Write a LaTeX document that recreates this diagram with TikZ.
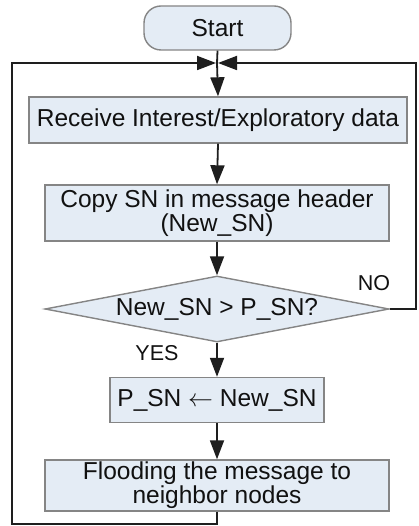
\documentclass[tikz,border=0pt]{standalone}
\usepackage{fontspec}
\setmainfont{Liberation Sans}
\usetikzlibrary{shapes.geometric,arrows.meta}

\definecolor{boxfill}{HTML}{E4ECF5}
\definecolor{boxline}{HTML}{858585}
\definecolor{ink}{HTML}{111111}
\definecolor{wire}{HTML}{1E1E1E}

\tikzset{
  txt/.style={font=\fontsize{24.5}{21}\selectfont, text=ink, align=center},
  procbox/.style={draw=boxline, line width=1.4pt, fill=boxfill, inner sep=0pt},
  termbox/.style={procbox, rounded corners=17pt},
  decision/.style={draw=boxline, line width=1.4pt, fill=boxfill, shape=diamond,
    inner sep=0pt, minimum width=344pt, minimum height=66pt},
  flow/.style={draw=wire, line width=1.8pt, -{Triangle[length=19pt,width=14pt]}},
  wireline/.style={draw=wire, line width=1.8pt},
  tag/.style={font=\fontsize{21.5}{21}\selectfont, text=ink}
}

\begin{document}
\begin{tikzpicture}[x=1pt,y=-1pt]
  \useasboundingbox[fill=white] (0,0) rectangle (419,526);

  % process steps
  \node[termbox, minimum width=147pt, minimum height=44pt, txt] (start) at (217.5,28) {Start};
  \node[procbox, minimum width=378pt, minimum height=46pt, txt] (recv) at (218,120)
    {Receive Interest/Exploratory data};
  \node[procbox, minimum width=344pt, minimum height=56pt, txt] (copy) at (217,213)
    {Copy SN in message header\\(New\_SN)};
  \node[decision] (dec) at (217,309) {};
  \node[txt] (dectext) at (dec.center) {New\_SN > P\_SN?};
  \node[procbox, minimum width=214pt, minimum height=45pt, txt] (pset) at (217,400)
    {P\_SN $\leftarrow$ New\_SN};
  \node[procbox, minimum width=344pt, minimum height=51pt, txt] (flood) at (217,485.5)
    {Flooding the message to\\neighbor nodes};

  % branch labels
  \node[tag] (nolabel) at (374,283) {NO};
  \node[tag] (yeslabel) at (157,353) {YES};

  % loop routing points
  \coordinate (join) at (217,63);
  \coordinate (botmid) at (217,524);
  \coordinate (botleft) at (12,524);
  \coordinate (topleft) at (12,63);
  \coordinate (noright) at (416,309);
  \coordinate (topright) at (416,63);

  % main flow
  \draw[wireline] (start.south) -- (join);
  \draw[flow] (join) -- (recv.north);
  \draw[flow] (recv.south) -- (copy.north);
  \draw[flow] (copy.south) -- (dec.north);
  \draw[flow] (dec.south) -- (pset.north);
  \draw[flow] (pset.south) -- (flood.north);

  % return paths into the junction
  \draw[wireline] (flood.south) -- (botmid) -- (botleft) -- (topleft) -- ([xshift=-18pt]join);
  \draw[flow] ([xshift=-20pt]join) -- ([xshift=-1pt]join);
  \draw[wireline] (dec.east) -- (noright) -- (topright) -- ([xshift=18pt]join);
  \draw[flow] ([xshift=20pt]join) -- ([xshift=1pt]join);
\end{tikzpicture}
\end{document}
